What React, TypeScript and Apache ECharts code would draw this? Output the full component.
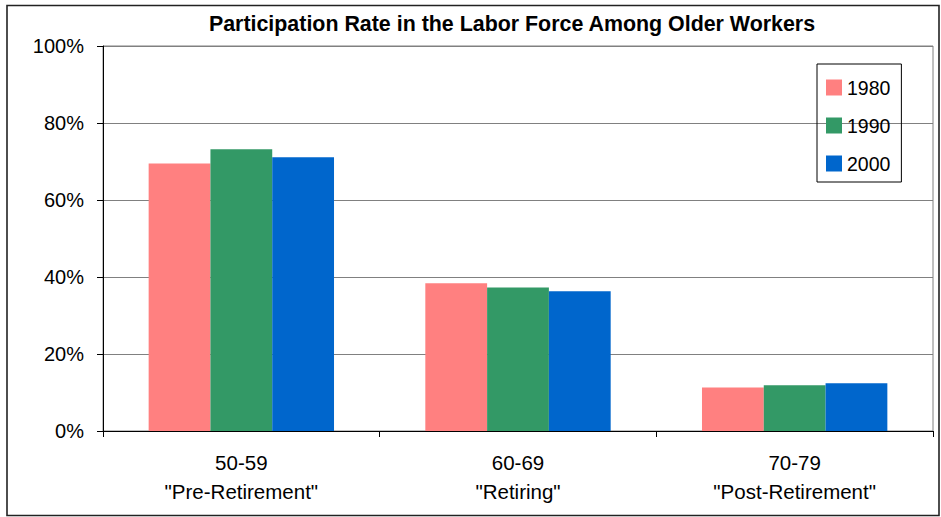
import React, { useEffect, useRef } from "react";
import * as echarts from "echarts";

const categories = ['50-59\n"Pre-Retirement"', '60-69\n"Retiring"', '70-79\n"Post-Retirement"'];
const seriesNames = ["1980", "1990", "2000"];
const values1980 = [69.5, 38.4, 11.3];
const values1990 = [73.2, 37.3, 11.9];
const values2000 = [71.1, 36.3, 12.4];
const yTicks = { min: 0, max: 100, interval: 20 };
const colors = ["#FF8080", "#339966", "#0066CC"];

export default function App() {
  const ref = useRef<HTMLDivElement>(null);
  useEffect(() => {
    if (!ref.current) return;
    const chart = echarts.init(ref.current, null, { renderer: "svg" });
    const font = "Liberation Sans, Arial, sans-serif";
    const data = [values1980, values1990, values2000];
    chart.setOption({
      animation: false,
      textStyle: { fontFamily: font },
      title: {
        text: "Participation Rate in the Labor Force Among Older Workers",
        left: 507,
        textAlign: "center",
        top: 8,
        textStyle: { fontFamily: font, fontSize: 21.4, fontWeight: "bold", color: "#000" },
      },
      legend: {
        orient: "vertical",
        left: 817,
        top: 64,
        data: seriesNames,
        icon: "rect",
        itemWidth: 16,
        itemHeight: 16,
        itemGap: 17,
        padding: [13, 11, 8, 9],
        borderColor: "#000",
        borderWidth: 1,
        textStyle: { fontFamily: font, fontSize: 19.5, color: "#000", lineHeight: 21 },
      },
      graphic: [
        {
          type: "rect",
          shape: { x: 7, y: 5.5, width: 932, height: 510 },
          style: { fill: "none", stroke: "#222", lineWidth: 1.6 },
          silent: true,
        },
      ],
      grid: {
        left: 103,
        top: 46,
        right: 8,
        bottom: 86,
        show: true,
        borderColor: "#808080",
        borderWidth: 1,
      },
      xAxis: {
        type: "category",
        data: categories,
        axisLine: { lineStyle: { color: "#000", width: 1 } },
        axisTick: { show: true, length: 6, alignWithLabel: false, lineStyle: { color: "#000" } },
        axisLabel: {
          fontFamily: font,
          fontSize: 20.5,
          lineHeight: 29,
          color: "#000",
          margin: 17,
        },
      },
      yAxis: {
        type: "value",
        min: yTicks.min,
        max: yTicks.max,
        interval: yTicks.interval,
        axisLine: { show: true, lineStyle: { color: "#000", width: 1 } },
        axisTick: { show: true, length: 6, lineStyle: { color: "#000" } },
        axisLabel: {
          fontFamily: font,
          fontSize: 20,
          color: "#000",
          margin: 19,
          formatter: "{value}%",
        },
        splitLine: { show: true, lineStyle: { color: "#808080", width: 1 } },
      },
      series: seriesNames.map((name, i) => ({
        name,
        type: "bar",
        data: data[i],
        barGap: "0%",
        barCategoryGap: "33%",
        itemStyle: { color: colors[i] },
      })),
    });
    return () => chart.dispose();
  }, []);
  return (
    <div
      ref={ref}
      style={{ position: "fixed", left: 0, top: 0, width: 941, height: 517, background: "#fff" }}
    />
  );
}
